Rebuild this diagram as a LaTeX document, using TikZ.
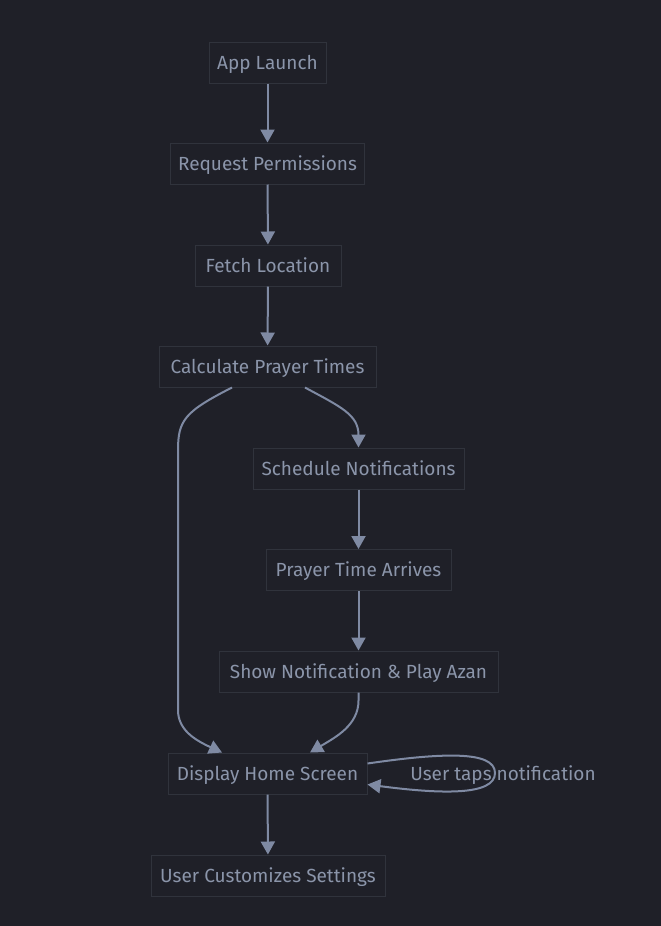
\documentclass[tikz,border=0pt]{standalone}
\usepackage{fontspec}
\setmainfont{Fira Sans}
\usetikzlibrary{arrows.meta}
\definecolor{bgc}{HTML}{1F2028}
\definecolor{boxborder}{HTML}{30333C}
\definecolor{txt}{HTML}{8B95AA}
\definecolor{edge}{HTML}{7F8AA3}
\tikzset{
  box/.style={draw=boxborder, line width=1pt, fill=bgc, text=txt, minimum height=41pt, inner xsep=8pt, text height=15pt, text depth=2pt, font=\fontsize{19}{22}\selectfont, anchor=center},
  arr/.style={draw=edge, line width=2pt, -{Triangle[length=13pt,width=14pt]}},
}
\begin{document}
\begin{tikzpicture}[x=1pt,y=-1pt]
\fill[bgc] (0,0) rectangle (661,926);
\useasboundingbox (0,0) rectangle (661,926);
\node[box, minimum width=117pt] (a) at (267.5,62.5) {App Launch};
\node[box, minimum width=191pt] (b) at (267.5,163.5) {Request Permissions};
\node[box, minimum width=146pt] (c) at (268,265.5) {Fetch Location};
\node[box, minimum width=217pt] (d) at (267.5,366.5) {Calculate Prayer Times};
\node[box, minimum width=211pt] (e) at (358.5,468.5) {Schedule Notifications};
\node[box, minimum width=185pt] (f) at (358.5,570) {Prayer Time Arrives};
\node[box, minimum width=279pt] (g) at (358.5,671.5) {Show Notification \& Play Azan};
\node[box, minimum width=199pt] (h) at (267.5,773.5) {Display Home Screen};
\node[box, minimum width=234pt] (i) at (268,875.5) {User Customizes Settings};

\draw[arr] (a) -- (b);
\draw[arr] (b) -- (c);
\draw[arr] (c) -- (d);
\draw[arr] ([xshift=37.5pt]d.south) .. controls +(35,19) and +(0,-33) .. (e.north);
\draw[arr] (e) -- (f);
\draw[arr] (f) -- (g);
\draw[arr] ([xshift=-35.5pt]d.south) .. controls +(-47,24) and +(0,-30) .. (178,450) -- (178,710) .. controls (178,730) and (195,740) .. ([xshift=-45.5pt]h.north);
\draw[arr] (g.south) -- ++(0,8) .. controls +(0,25) and +(25,-15) .. ([xshift=42.5pt]h.north);
\draw[arr] (h) -- (i);
\draw[arr] ([yshift=10pt]h.east) .. controls (440,753) and (495,750) .. (495,773) .. controls (495,796) and (440,794) .. ([yshift=-11pt]h.east);
\node[text=txt, text height=15pt, text depth=2pt, font=\fontsize{19}{22}\selectfont] (lbl) at (503,773.5) {User taps notification};
\end{tikzpicture}
\end{document}
